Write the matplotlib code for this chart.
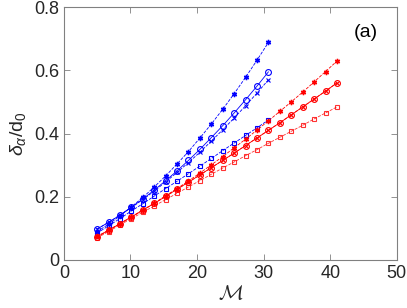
import numpy as np
import matplotlib
matplotlib.use("Agg")
import matplotlib.pyplot as plt

plt.rcParams['font.family'] = ['Liberation Sans', 'DejaVu Sans']
plt.rcParams['mathtext.fontset'] = 'cm'
plt.rcParams['mathtext.rm'] = 'Liberation Sans'
plt.rcParams['mathtext.it'] = 'Liberation Sans:italic'

# x positions (M) of the markers
m_blue = [5, 6.71, 8.43, 10.14, 11.86, 13.57, 15.29, 17, 18.71, 20.43,
          22.14, 23.86, 25.57, 27.29, 29, 30.71]
m_red = m_blue + [32.43, 34.14, 35.86, 37.57, 39.29, 41]

# blue series
blue_star = [0.090, 0.113, 0.139, 0.168, 0.198, 0.231, 0.266, 0.304, 0.343, 0.386,
             0.430, 0.477, 0.526, 0.578, 0.632, 0.688]
blue_circ = [0.098, 0.119, 0.142, 0.167, 0.193, 0.221, 0.251, 0.282, 0.315, 0.350,
             0.387, 0.425, 0.465, 0.507, 0.550, 0.595]
blue_x = [0.098, 0.119, 0.142, 0.166, 0.191, 0.218, 0.247, 0.277, 0.308, 0.341,
          0.376, 0.412, 0.449, 0.488, 0.528, 0.570]
blue_sq = [0.085, 0.108, 0.131, 0.155, 0.178, 0.202, 0.226, 0.249, 0.273, 0.297,
           0.321, 0.346, 0.370, 0.394, 0.418, 0.443]

# red series
red_star = [0.075, 0.094, 0.115, 0.136, 0.157, 0.180, 0.203, 0.226, 0.250, 0.275, 0.301,
            0.327, 0.355, 0.382, 0.411, 0.440, 0.470, 0.500, 0.531, 0.563, 0.596, 0.629]
red_circ = [0.073, 0.094, 0.115, 0.136, 0.158, 0.179, 0.201, 0.224, 0.246, 0.269, 0.292,
            0.315, 0.338, 0.362, 0.386, 0.410, 0.434, 0.459, 0.484, 0.509, 0.534, 0.560]
red_sq = [0.070, 0.090, 0.111, 0.131, 0.151, 0.171, 0.191, 0.211, 0.231, 0.251, 0.271,
          0.291, 0.310, 0.330, 0.349, 0.369, 0.388, 0.407, 0.426, 0.446, 0.465, 0.484]

fig = plt.figure(figsize=(4.07, 3.08), dpi=100)
ax = fig.add_axes([0.157, 0.156, 0.818, 0.821])

blue = '#0000ff'
red = '#ff0000'
ast = (6, 2, 0)

ax.plot(m_blue, blue_star, '--', color=blue, lw=0.6, marker=ast, ms=3.8, mew=1.0)
ax.plot(m_blue, blue_circ, '-', color=blue, lw=0.6, marker='o', ms=4.2, mfc='none', mew=0.8)
ax.plot(m_blue, blue_x, '--', color=blue, lw=0.6, marker='x', ms=3.0, mew=0.8)
ax.plot(m_blue, blue_sq, '--', color=blue, lw=0.6, marker='s', ms=3.0, mfc='none', mew=0.8)

ax.plot(m_red, red_star, '--', color=red, lw=0.6, marker=ast, ms=3.8, mew=1.0)
ax.plot(m_red, red_circ, '-', color=red, lw=0.6, marker='o', ms=4.2, mfc='none', mew=0.8)
ax.plot(m_red, red_circ, '--', color=red, lw=0.6, marker='x', ms=3.0, mew=0.8)
ax.plot(m_red, red_sq, '--', color=red, lw=0.6, marker='s', ms=3.0, mfc='none', mew=0.8, alpha=0.8)

ax.set_xlim(0, 50)
ax.set_ylim(0, 0.8)
ax.set_xticks([0, 10, 20, 30, 40, 50])
ax.set_yticks([0, 0.2, 0.4, 0.6, 0.8])
ax.set_yticklabels(['0', '0.2', '0.4', '0.6', '0.8'])

gray = '#262626'
for s in ax.spines.values():
    s.set_color('#808080')
    s.set_linewidth(0.8)
ax.tick_params(direction='in', length=4, width=0.6, colors='#808080',
               labelcolor=gray, labelsize=13, top=True, right=True)

ax.set_xlabel(r'$\mathcal{M}$', fontsize=15, color=gray, labelpad=2, math_fontfamily='cm')
ax.set_ylabel(r'$\delta_{\alpha}$/d$_0$', fontsize=14, color=gray, labelpad=4,
              math_fontfamily='custom')
ax.text(45.3, 0.72, '(a)', fontsize=14, color='black', ha='center', va='center')

fig.savefig('out.png', dpi=100)
